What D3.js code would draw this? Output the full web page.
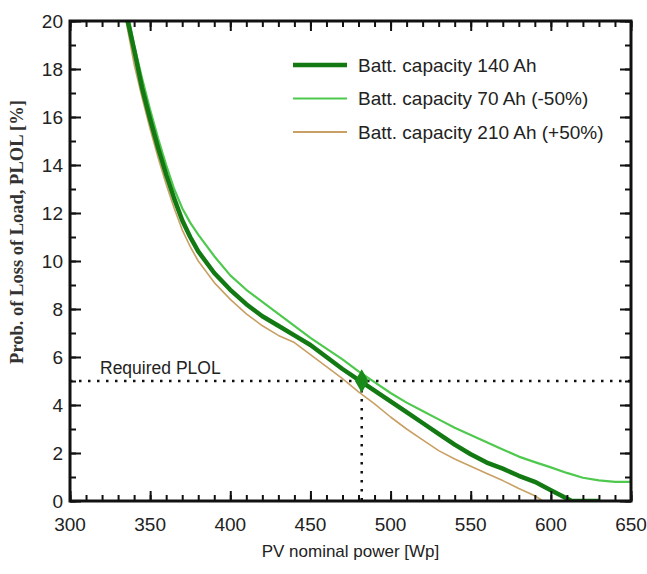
<!DOCTYPE html>
<html>
<head>
<meta charset="utf-8">
<script src="https://cdn.jsdelivr.net/npm/d3@7"></script>
<style>
  body { margin: 0; background: #fff; }
  svg { display: block; }
  text { font-family: Arial, "Liberation Sans", sans-serif; fill: #222; }
</style>
</head>
<body>
<div id="chart"></div>
<script>
// Data: PV nominal power [Wp] vs PLOL [%]
const pv140 = [336, 340, 345, 350, 355, 360, 365, 370, 375, 380, 390, 400, 410, 420, 430, 440, 450, 460, 470, 480, 490, 500, 510, 520, 530, 540, 550, 560, 570, 580, 590, 600, 610, 613, 630];
const plol140 = [20, 18.8, 17.2, 15.9, 14.7, 13.6, 12.6, 11.7, 11.0, 10.4, 9.5, 8.8, 8.2, 7.7, 7.3, 6.9, 6.5, 6.0, 5.5, 5.05, 4.6, 4.15, 3.7, 3.25, 2.8, 2.35, 1.95, 1.6, 1.35, 1.05, 0.8, 0.45, 0.1, 0, 0];

const pv70 = [337, 340, 345, 350, 355, 360, 365, 370, 375, 380, 390, 400, 410, 420, 430, 440, 450, 460, 470, 480, 490, 500, 510, 520, 530, 540, 550, 560, 570, 580, 590, 600, 610, 620, 630, 640, 650];
const plol70 = [20, 19.0, 17.6, 16.3, 15.1, 14.0, 13.0, 12.2, 11.6, 11.1, 10.2, 9.4, 8.8, 8.3, 7.8, 7.3, 6.8, 6.35, 5.9, 5.4, 4.95, 4.5, 4.1, 3.75, 3.4, 3.05, 2.75, 2.45, 2.15, 1.85, 1.62, 1.4, 1.17, 0.97, 0.86, 0.8, 0.8];

const pv210 = [335, 340, 345, 350, 355, 360, 365, 370, 375, 380, 390, 400, 410, 420, 430, 440, 450, 460, 470, 480, 490, 500, 510, 520, 530, 540, 550, 560, 570, 580, 590, 595];
const plol210 = [20, 18.2, 16.8, 15.5, 14.3, 13.2, 12.2, 11.3, 10.6, 10.0, 9.1, 8.4, 7.8, 7.3, 6.9, 6.6, 6.1, 5.6, 5.1, 4.55, 4.05, 3.5, 3.0, 2.55, 2.1, 1.75, 1.45, 1.15, 0.85, 0.52, 0.22, 0];

const seriesNames = ["Batt. capacity 140 Ah", "Batt. capacity 70 Ah (-50%)", "Batt. capacity 210 Ah (+50%)"];
const xTicks = [300, 350, 400, 450, 500, 550, 600, 650];
const yTicks = [0, 2, 4, 6, 8, 10, 12, 14, 16, 18, 20];
const requiredPLOL = 5;
const requiredPV = 482;

const width = 647, height = 574;
const margin = { left: 70, right: 16, top: 21, bottom: 73 };

const svg = d3.select("#chart").append("svg")
    .attr("width", width)
    .attr("height", height);

const x = d3.scaleLinear().domain([300, 650]).range([margin.left, width - margin.right]);
const y = d3.scaleLinear().domain([0, 20]).range([height - margin.bottom, margin.top]);

const line = d3.line().x(d => x(d[0])).y(d => y(d[1]));

// Clip curves to the plot frame
svg.append("clipPath").attr("id", "clip")
    .append("rect")
    .attr("x", x(300)).attr("y", y(20))
    .attr("width", x(650) - x(300)).attr("height", y(0) - y(20));

const plot = svg.append("g").attr("clip-path", "url(#clip)");

// Dotted guide lines for the required PLOL
svg.append("line")
    .attr("x1", x(300)).attr("x2", x(650))
    .attr("y1", y(requiredPLOL)).attr("y2", y(requiredPLOL))
    .attr("stroke", "#111").attr("stroke-width", 2.5)
    .attr("stroke-dasharray", "2.5,6.5");
svg.append("line")
    .attr("x1", x(requiredPV)).attr("x2", x(requiredPV))
    .attr("y1", y(requiredPLOL)).attr("y2", y(0))
    .attr("stroke", "#111").attr("stroke-width", 2.5)
    .attr("stroke-dasharray", "2.5,6.5");

svg.append("text")
    .attr("x", 100).attr("y", y(requiredPLOL) - 7)
    .style("font-size", "17.5px")
    .text("Required PLOL");

// Curves
const series = [
    { pv: pv210, plol: plol210, color: "#c9a064", w: 1.6 },
    { pv: pv70, plol: plol70, color: "#4ec94e", w: 2.2 },
    { pv: pv140, plol: plol140, color: "#137a13", w: 4.5 }
];
series.forEach(s => {
    plot.append("path")
        .datum(d3.zip(s.pv, s.plol))
        .attr("fill", "none")
        .attr("stroke", s.color)
        .attr("stroke-width", s.w)
        .attr("stroke-linejoin", "round")
        .attr("d", line);
});

// Marker at the design point
svg.append("path")
    .attr("d", d3.symbol().type(d3.symbolDiamond).size(160))
    .attr("transform", `translate(${x(requiredPV)},${y(requiredPLOL)})`)
    .attr("fill", "#1a8a1a");

// Axes: ticks point inward on all four sides
const minorX = d3.range(300, 651, 10);
const minorY = d3.range(0, 21, 1);

svg.append("g").attr("transform", `translate(0,${y(0)})`)
    .call(d3.axisTop(x).tickValues(minorX).tickSize(6).tickFormat(""));
svg.append("g").attr("transform", `translate(0,${y(0)})`)
    .call(d3.axisTop(x).tickValues(xTicks).tickSize(10).tickFormat(""));
svg.append("g").attr("transform", `translate(0,${y(20)})`)
    .call(d3.axisBottom(x).tickValues(minorX).tickSize(6).tickFormat(""));
svg.append("g").attr("transform", `translate(0,${y(20)})`)
    .call(d3.axisBottom(x).tickValues(xTicks).tickSize(10).tickFormat(""));
svg.append("g").attr("transform", `translate(${x(300)},0)`)
    .call(d3.axisRight(y).tickValues(minorY).tickSize(6).tickFormat(""));
svg.append("g").attr("transform", `translate(${x(300)},0)`)
    .call(d3.axisRight(y).tickValues(yTicks).tickSize(11).tickFormat(""));
svg.append("g").attr("transform", `translate(${x(650)},0)`)
    .call(d3.axisLeft(y).tickValues(minorY).tickSize(6).tickFormat(""));
svg.append("g").attr("transform", `translate(${x(650)},0)`)
    .call(d3.axisLeft(y).tickValues(yTicks).tickSize(11).tickFormat(""));

svg.selectAll(".domain").remove();
svg.selectAll(".tick line").attr("stroke", "#111").attr("stroke-width", 2);

// Frame
svg.append("rect")
    .attr("x", x(300)).attr("y", y(20))
    .attr("width", x(650) - x(300)).attr("height", y(0) - y(20))
    .attr("fill", "none").attr("stroke", "#111").attr("stroke-width", 3);

// Tick labels
svg.append("g").selectAll("text")
    .data(xTicks).join("text")
    .attr("x", d => x(d)).attr("y", y(0) + 30)
    .attr("text-anchor", "middle")
    .style("font-size", "19px")
    .text(d => d);
svg.append("g").selectAll("text")
    .data(yTicks).join("text")
    .attr("x", x(300) - 7).attr("y", d => y(d) + 7)
    .attr("text-anchor", "end")
    .style("font-size", "19px")
    .text(d => d);

// Axis titles
svg.append("text")
    .attr("x", (x(300) + x(650)) / 2).attr("y", 557)
    .attr("text-anchor", "middle")
    .style("font-size", "17px")
    .text("PV nominal power [Wp]");
svg.append("text")
    .attr("transform", "translate(23,232) rotate(-90)")
    .attr("text-anchor", "middle")
    .style("font-family", "'Liberation Serif', 'DejaVu Serif', serif")
    .style("font-weight", "bold")
    .style("font-size", "18.5px")
    .style("fill", "#333")
    .text("Prob. of Loss of Load, PLOL [%]");

// Legend
const legendItems = [
    { name: seriesNames[0], color: "#137a13", w: 4.5 },
    { name: seriesNames[1], color: "#4ec94e", w: 2.2 },
    { name: seriesNames[2], color: "#c9a064", w: 1.8 }
];
const legend = svg.append("g").selectAll("g")
    .data(legendItems).join("g")
    .attr("transform", (d, i) => `translate(293,${65 + i * 33.5})`);
legend.append("line")
    .attr("x1", 0).attr("x2", 54)
    .attr("stroke", d => d.color).attr("stroke-width", d => d.w);
legend.append("text")
    .attr("x", 65).attr("y", 6.5)
    .style("font-size", "19px")
    .text(d => d.name);
</script>
</body>
</html>
